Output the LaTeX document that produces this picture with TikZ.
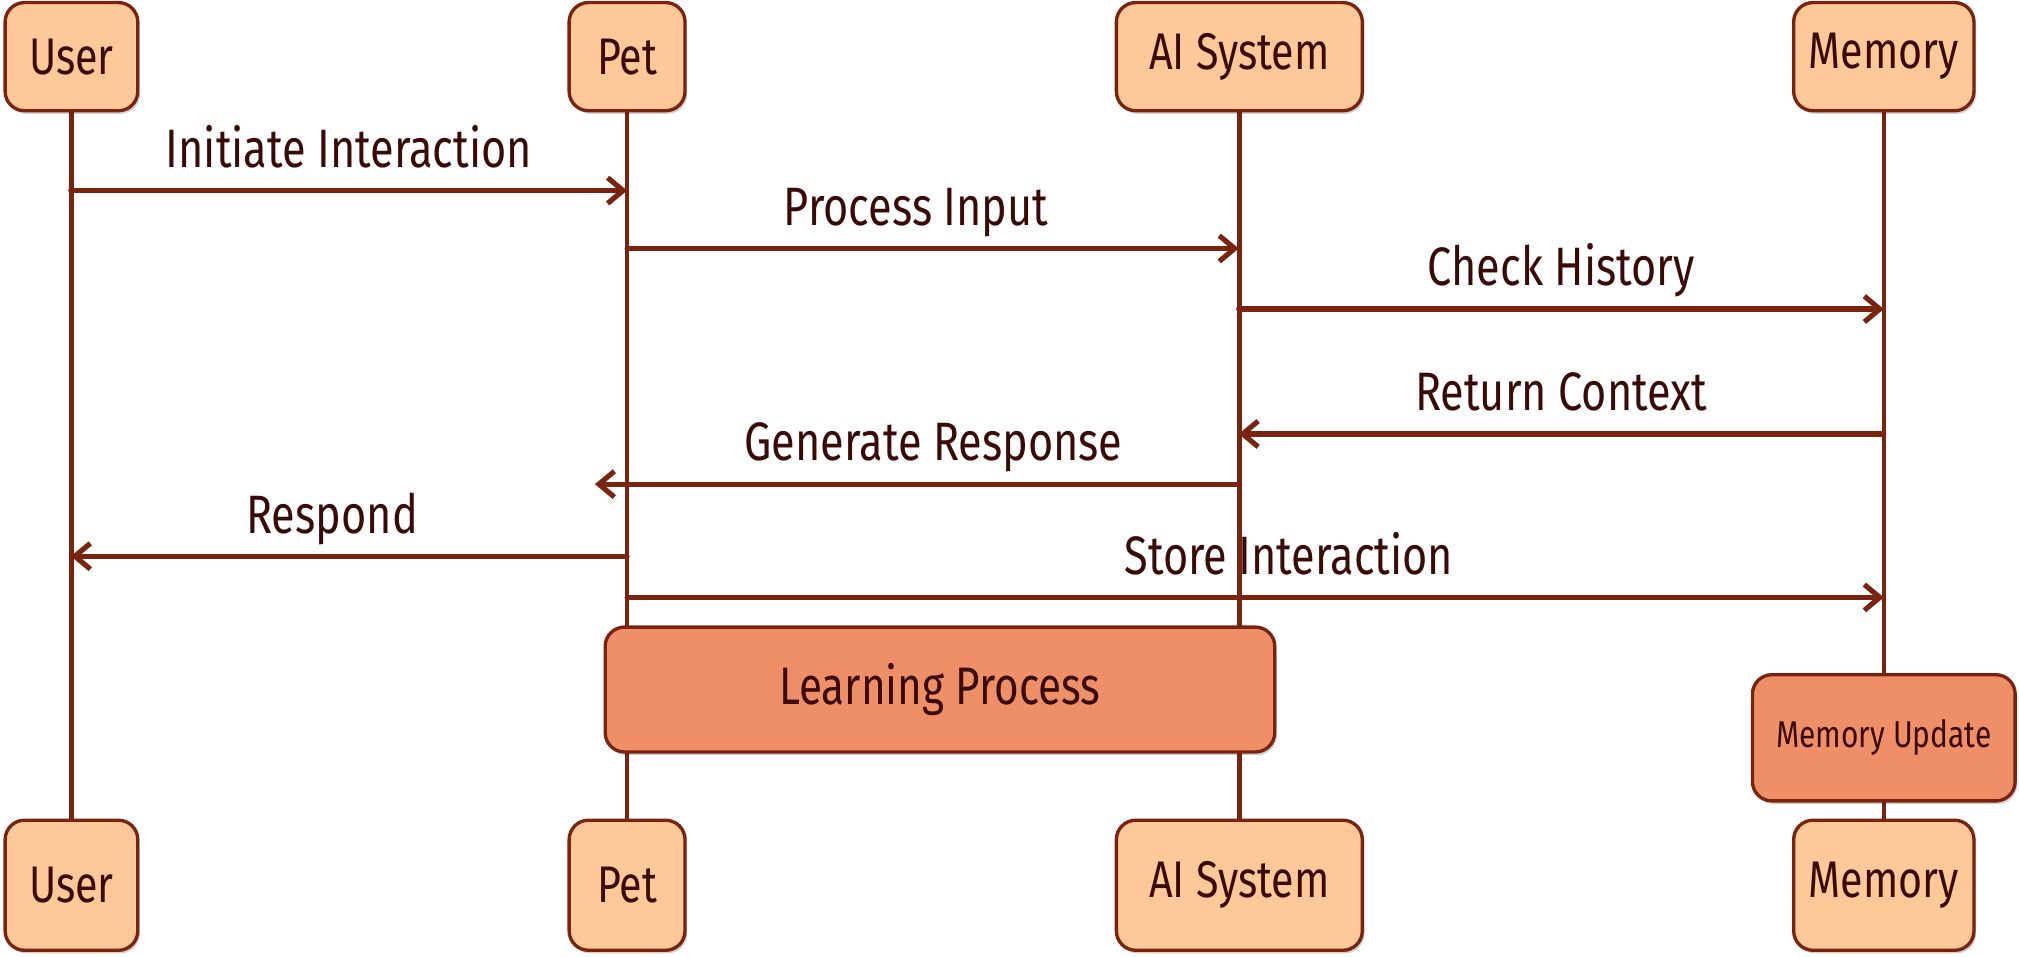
\documentclass[tikz,border=0pt]{standalone}
\usepackage{fontspec}
\setmainfont{Fira Sans}[FakeStretch=0.8]
\usetikzlibrary{arrows.meta,shadows,backgrounds,calc}
\definecolor{boxfill}{HTML}{FFC899}
\definecolor{actfill}{HTML}{EF8F68}
\definecolor{edge}{HTML}{7A2410}
\definecolor{ink}{HTML}{3A0A06}
\begin{document}
\begin{tikzpicture}[x=0.5pt,y=-0.5pt,
  part/.style={draw=edge, line width=1.3pt, fill=boxfill, rounded corners=7.5pt,
    text=ink, font=\fontsize{20}{22}\selectfont, inner sep=0pt, align=center,
    drop shadow={shadow xshift=0.8pt, shadow yshift=-1.2pt, opacity=0.18, fill=black}},
  act/.style={part, fill=actfill},
  life/.style={draw=edge, line width=1.8pt},
  msg/.style={draw=edge, line width=2pt, line cap=round,
    -{Straight Barb[length=6pt,width=10pt]}},
  lbl/.style={text=ink, font=\fontsize{21}{23}\selectfont, inner sep=0pt, anchor=base, yshift=9pt}]
\useasboundingbox (0,0) rectangle (1568,743);
% top participants
\node[part, minimum width=51.5pt, minimum height=42pt] (uT) at (55.5,44) {User};
\node[part, minimum width=45pt, minimum height=42pt] (pT) at (487,44) {Pet};
\node[part, minimum width=95.5pt, minimum height=42pt] (aT) at (962.5,44) {AI System};
\node[part, minimum width=70pt, minimum height=42pt] (mT) at (1463,44) {Memory};
% bottom participants
\node[part, minimum width=51.5pt, minimum height=50.5pt] (uB) at (55.5,687.5) {User};
\node[part, minimum width=45pt, minimum height=50.5pt] (pB) at (487,687.5) {Pet};
\node[part, minimum width=95.5pt, minimum height=50.5pt] (aB) at (962.5,687.5) {AI System};
\node[part, minimum width=70pt, minimum height=50.5pt] (mB) at (1463,687.5) {Memory};
% activation boxes
\node[act, minimum width=260pt, minimum height=48.5pt, font=\fontsize{20.5}{22}\selectfont] (learn) at (730,535.5) {Learning Process};
\node[act, minimum width=102pt, minimum height=49pt, font=\fontsize{14.5}{16}\selectfont] (mupd) at (1463,573) {Memory Update};
% lifelines
\begin{scope}[on background layer]
\draw[life] (uT.south) -- (uB.north);
\draw[life] (pT.south) -- (pB.north);
\draw[life] (aT.south) -- (aB.north);
\draw[life] (mT.south) -- (mB.north);
\end{scope}
% message anchors
\coordinate (u1) at (55,148);   \coordinate (p1) at (487,148);
\coordinate (p2) at (487,193);  \coordinate (a2) at (962,193);
\coordinate (a3) at (962,240);  \coordinate (m3) at (1463,240);
\coordinate (m4) at (1463,337); \coordinate (a4) at (962,337);
\coordinate (a5) at (962,376);  \coordinate (g5) at (462,376);
\coordinate (p6) at (487,432);  \coordinate (u6) at (55,432);
\coordinate (p7) at (487,464);  \coordinate (m7) at (1463,464);
% messages
\draw[msg] (u1) -- node[lbl] {Initiate Interaction} (p1);
\draw[msg] (p2) -- node[lbl, xshift=-6.5pt] {Process Input} (a2);
\draw[msg] (a3) -- node[lbl] {Check History} (m3);
\draw[msg] (m4) -- node[lbl] {Return Context} (a4);
\draw[msg] (a5) -- node[lbl, xshift=6.5pt] {Generate Response} (g5);
\draw[msg] (p6) -- node[lbl, xshift=-6.5pt] {Respond} (u6);
\draw[msg] (p7) -- node[lbl, xshift=13pt] {Store Interaction} (m7);
\end{tikzpicture}
\end{document}
